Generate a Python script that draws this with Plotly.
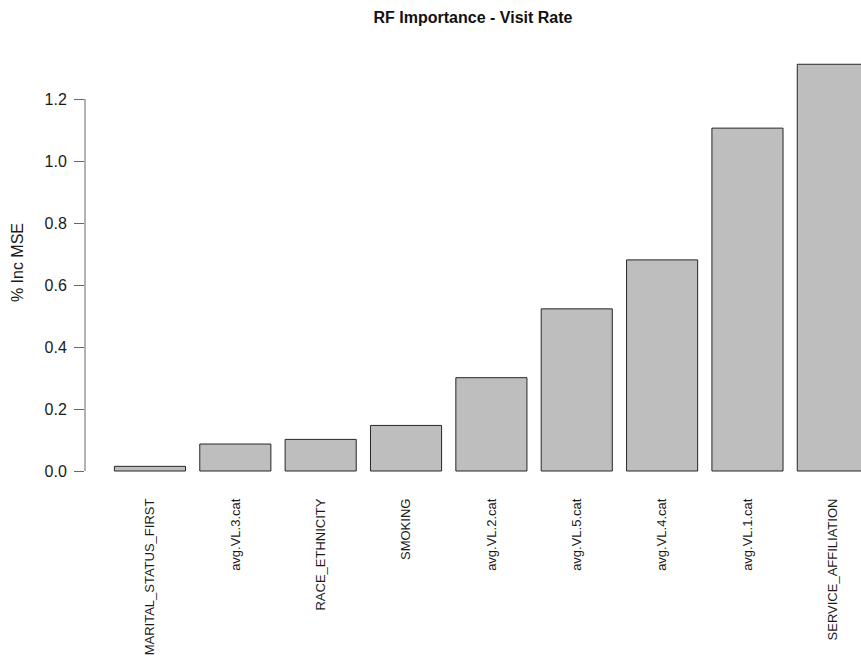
import plotly.graph_objects as go

# Random forest variable importance (% increase in MSE) for visit rate
features = [
    "MARITAL_STATUS_FIRST",
    "avg.VL.3.cat",
    "RACE_ETHNICITY",
    "SMOKING",
    "avg.VL.2.cat",
    "avg.VL.5.cat",
    "avg.VL.4.cat",
    "avg.VL.1.cat",
    "SERVICE_AFFILIATION",
]
inc_mse = [0.015, 0.087, 0.102, 0.147, 0.301, 0.523, 0.681, 1.106, 1.312]

y_ticks = [0.0, 0.2, 0.4, 0.6, 0.8, 1.0, 1.2]

FONT = "Liberation Sans, Arial, Helvetica, sans-serif"

fig = go.Figure(
    go.Bar(
        x=features,
        y=inc_mse,
        marker=dict(color="#bebebe", line=dict(color="#262626", width=1)),
        width=0.833,
        hoverinfo="x+y",
    )
)

fig.update_layout(
    width=861,
    height=658,
    margin=dict(l=85, r=0, t=48, b=171),
    paper_bgcolor="white",
    plot_bgcolor="white",
    showlegend=False,
    font=dict(family=FONT, color="#1a1a1a"),
    title=dict(
        text="<b>RF Importance - Visit Rate</b>",
        font=dict(family=FONT, size=16, color="#111111"),
        xref="paper",
        x=0.5,
        xanchor="center",
        yref="container",
        y=1 - 17 / 658,
        yanchor="middle",
    ),
    xaxis=dict(
        type="category",
        range=[-0.761, 8.330],
        showline=False,
        showgrid=False,
        zeroline=False,
        ticks="",
        tickangle=-90,
        tickfont=dict(family=FONT, size=13, color="#1a1a1a"),
        ticklabelstandoff=8,
    ),
    yaxis=dict(
        range=[-0.0516, 1.3645],
        tickvals=y_ticks,
        tickformat=".1f",
        showline=False,
        showgrid=False,
        zeroline=False,
        ticks="outside",
        ticklen=10,
        tickwidth=1,
        tickcolor="#666666",
        tickfont=dict(family=FONT, size=16, color="#1a1a1a"),
        ticklabelstandoff=4,
    ),
    shapes=[
        # y-axis line spanning only the labelled tick range
        dict(
            type="line",
            xref="paper",
            yref="y",
            x0=0,
            x1=0,
            y0=y_ticks[0],
            y1=y_ticks[-1],
            line=dict(color="#666666", width=1),
        )
    ],
    annotations=[
        dict(
            text="% Inc MSE",
            textangle=-90,
            xref="paper",
            yref="paper",
            x=(17 - 85) / 776,
            y=0.51,
            xanchor="center",
            yanchor="middle",
            showarrow=False,
            font=dict(family=FONT, size=16, color="#1a1a1a"),
        )
    ],
)

fig.write_html("out.html")
